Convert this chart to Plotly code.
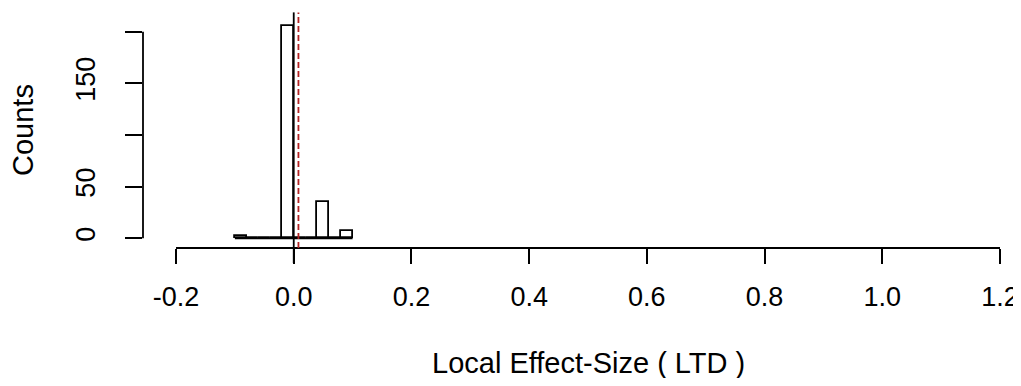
import plotly.graph_objects as go

# Histogram data (bins of width 0.02)
bin_edges = [-0.10, -0.08, -0.06, -0.04, -0.02, 0.00, 0.02, 0.04, 0.06, 0.08, 0.10]
counts = [2, 0, 0, 0, 206, 0, 0, 35, 0, 7]
x_ticks = [-0.2, 0.0, 0.2, 0.4, 0.6, 0.8, 1.0, 1.2]
x_tick_labels = ["-0.2", "0.0", "0.2", "0.4", "0.6", "0.8", "1.0", "1.2"]
y_ticks = [0, 50, 100, 150, 200]
y_tick_labels = ["0", "50", "", "150", ""]
zero_line = 0.0
mean_line = 0.008

centers = [(bin_edges[i] + bin_edges[i + 1]) / 2 for i in range(len(counts))]
widths = [bin_edges[i + 1] - bin_edges[i] for i in range(len(counts))]

FONT = "Liberation Sans, Arial, sans-serif"
LW = 1.8

fig = go.Figure()
fig.add_trace(go.Scatter(
    x=[bin_edges[0], bin_edges[-1]], y=[0, 0], mode="lines",
    line=dict(color="black", width=LW), hoverinfo="skip", showlegend=False))
fig.add_trace(go.Bar(
    x=centers, y=counts, width=widths,
    marker=dict(color="rgba(255,255,255,0)", line=dict(color="black", width=LW)),
    showlegend=False))

# axis lines (R style: only between first and last tick)
fig.add_shape(type="line", xref="x", yref="paper", x0=x_ticks[0], x1=x_ticks[-1], y0=0, y1=0,
              line=dict(color="black", width=LW))
fig.add_shape(type="line", xref="paper", yref="y", x0=0, x1=0, y0=y_ticks[0], y1=y_ticks[-1],
              line=dict(color="black", width=LW))
# vertical reference lines
fig.add_shape(type="line", xref="x", yref="paper", x0=zero_line, x1=zero_line, y0=-0.063, y1=0.99,
              line=dict(color="black", width=LW))
fig.add_shape(type="line", xref="x", yref="paper", x0=mean_line, x1=mean_line, y0=0.0, y1=0.99,
              line=dict(color="#b22222", width=LW, dash="6px,3px"))

PW = 1015 - 143  # plot area width in px
PH = 248 - 10    # plot area height in px

fig.update_layout(
    width=1013, height=370,
    margin=dict(l=135, r=6, t=2, b=130),
    plot_bgcolor="white", paper_bgcolor="white",
    font=dict(family=FONT, size=27, color="black"),
    bargap=0,
    xaxis=dict(range=[-0.2561, 1.2255], tickmode="array", tickvals=x_ticks, ticktext=x_tick_labels,
               ticks="outside", ticklen=15, tickwidth=LW, tickcolor="black", ticklabelstandoff=10,
               showgrid=False, zeroline=False, showline=False, tickfont=dict(size=27)),
    yaxis=dict(range=[-9.39, 221.0], tickmode="array", tickvals=y_ticks, ticktext=y_tick_labels,
               ticks="outside", ticklen=17, tickwidth=LW, tickcolor="black", tickangle=-90,
               ticklabelstandoff=19,
               showgrid=False, zeroline=False, showline=False, tickfont=dict(size=27)),
    annotations=[
        dict(text="Local Effect-Size ( LTD )", xref="paper", yref="paper",
             x=(588 - 143) / PW, y=-(363 - 248) / PH, showarrow=False,
             xanchor="center", yanchor="middle", font=dict(size=29)),
        dict(text="Counts", xref="paper", yref="paper",
             x=-(143 - 23) / PW, y=(248 - 130) / PH, showarrow=False, textangle=-90,
             xanchor="center", yanchor="middle", font=dict(size=29)),
    ],
)

fig.write_html("out.html")
